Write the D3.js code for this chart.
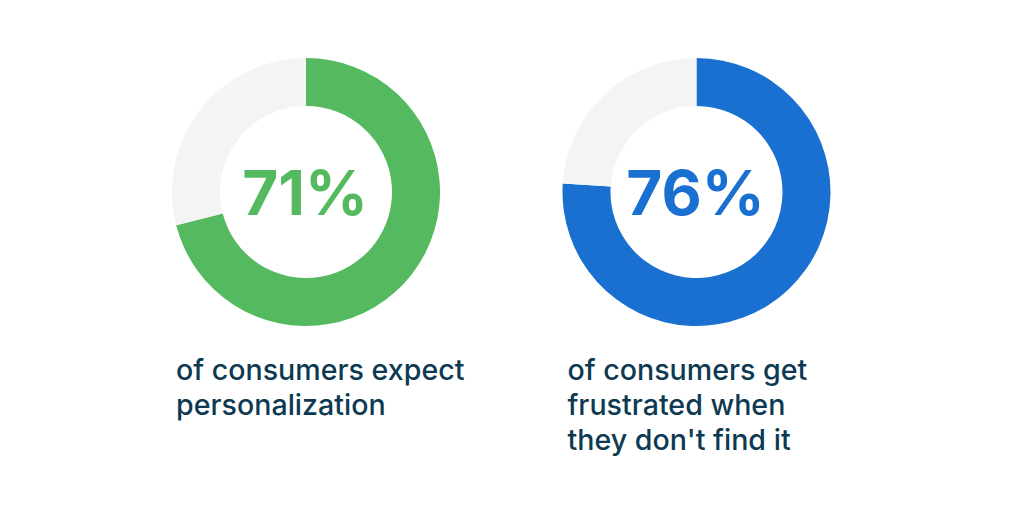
<!DOCTYPE html>
<html>
<head>
<meta charset="utf-8">
<script src="https://cdn.jsdelivr.net/npm/d3@7"></script>
<style>
  html, body { margin: 0; padding: 0; background: #fff; }
  svg { display: block; }
</style>
</head>
<body>
<div id="container"></div>
<script>
const stats = [71, 76]
const labels = ["71%", "76%"]
const captions = [
    ["of consumers expect", "personalization"],
    ["of consumers get", "frustrated when", "they don't find it"],
]
const colors = ["#55BA5F", "#1A70D0"]

const width = 1024
const height = 519
const centersX = [306, 696.5]
const centerY = 192
const outerR = 134
const innerR = 86

const svg = d3.select("#container")
    .append("svg")
    .attr("width", width)
    .attr("height", height)

const pie = d3.pie().sort(null).value((d) => d)
const arc = d3.arc().innerRadius(innerR).outerRadius(outerR)

stats.forEach((value, i) => {
    const g = svg.append("g")
        .attr("transform", `translate(${centersX[i]},${centerY})`)

    g.selectAll("path")
        .data(pie([value, 100 - value]))
        .join("path")
        .attr("d", arc)
        .attr("fill", (d, j) => (j === 0 ? colors[i] : "#F4F4F4"))

    g.append("text")
        .attr("text-anchor", "middle")
        .attr("x", -1)
        .attr("y", 22.5)
        .attr("font-family", "Inter, sans-serif")
        .attr("font-weight", 700)
        .attr("font-size", 62)
        .attr("fill", colors[i])
        .text(labels[i])

    const textX = centersX[i] - outerR + 4
    const t = svg.append("text")
        .attr("font-family", "Inter, sans-serif")
        .attr("font-weight", 500)
        .attr("font-size", 28.6)
        .attr("fill", "#0D3A52")
    captions[i].forEach((line, k) => {
        t.append("tspan")
            .attr("x", textX + (i === 1 ? 1 : 0))
            .attr("y", 380 + k * 35)
            .text(line)
    })
})
</script>
</body>
</html>
